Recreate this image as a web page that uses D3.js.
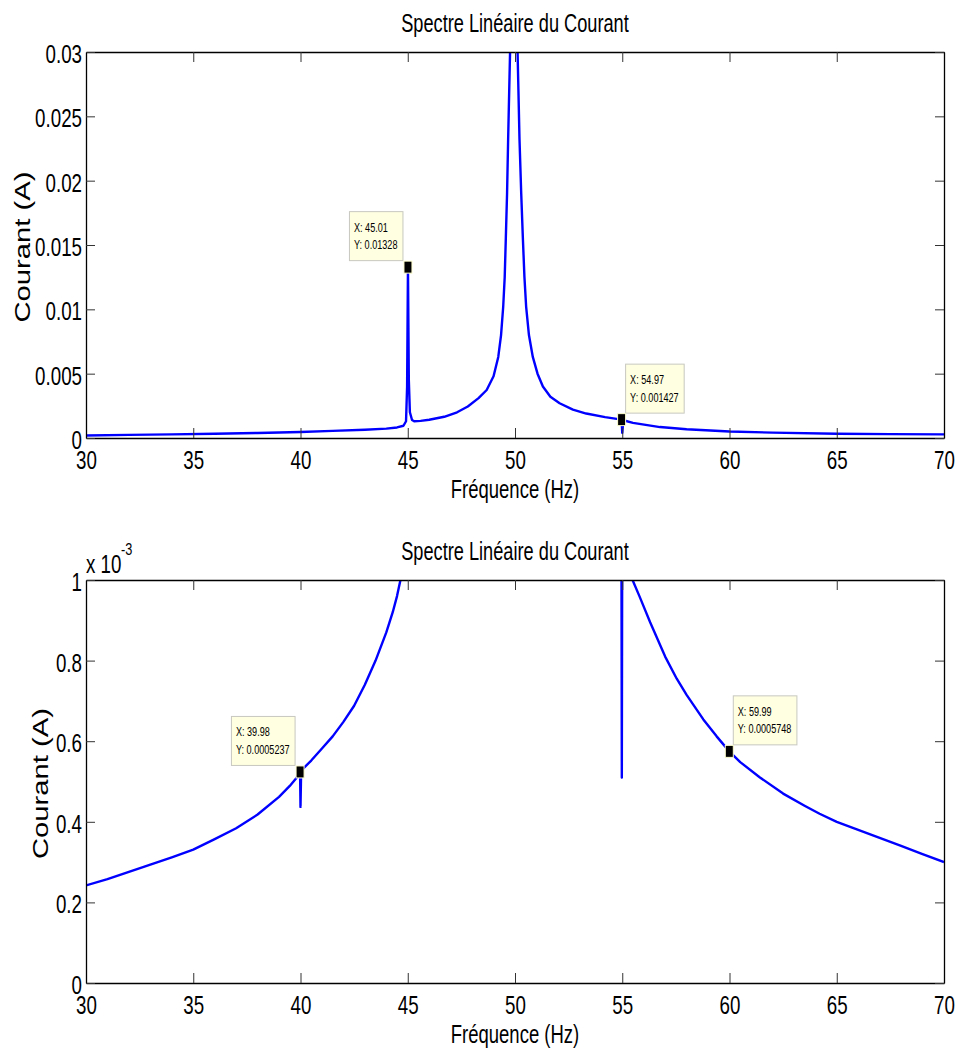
<!DOCTYPE html>
<html>
<head>
<meta charset="utf-8">
<script src="https://cdn.jsdelivr.net/npm/d3@7"></script>
<style>
  html, body { margin: 0; padding: 0; background: #fff; }
  svg { display: block; }
  text { font-family: "Liberation Sans", Arial, Helvetica, sans-serif; fill: #000; }
</style>
</head>
<body>
<svg id="chart" width="958" height="1051"></svg>
<script>
// ---------------- DATA ----------------
const chartTitle = "Spectre Linéaire du Courant";
const xLabel = "Fréquence (Hz)";
const yLabel = "Courant (A)";

const xTicks = [30, 35, 40, 45, 50, 55, 60, 65, 70];

// Top panel: current spectrum (A)
const freqTop = [30, 32, 34, 36, 38, 40, 41.5, 43, 44, 44.5, 44.8, 44.92, 44.97, 45.01, 45.05, 45.1, 45.2, 45.3,
  45.6, 46, 46.7, 47.3, 47.8, 48.3, 48.68, 49.0, 49.22, 49.35, 49.45, 49.52, 49.57, 49.63, 49.68, 49.73, 49.77, 49.85, 49.95,
  50.05, 50.12, 50.16, 50.21, 50.29, 50.37, 50.44, 50.52, 50.65, 50.83, 51.05, 51.3, 51.65, 52.08, 52.7, 53.32, 54.2,
  54.97, 55.0, 55.05, 55.5, 56.76, 58, 60, 62, 65, 67.5, 70];
const currentTop = [0.00020, 0.00024, 0.00028, 0.00033, 0.00039, 0.00047, 0.00055, 0.00064, 0.00073, 0.00082, 0.00095, 0.0013, 0.0040, 0.01328, 0.0045, 0.0020, 0.00140, 0.00130,
  0.00133, 0.00142, 0.00165, 0.00200, 0.00245, 0.0031, 0.00373, 0.0048, 0.0063, 0.0080, 0.0102, 0.0125, 0.0154, 0.0190, 0.0232, 0.0270, 0.0300, 0.040, 0.080,
  0.045, 0.0300, 0.0270, 0.0232, 0.0190, 0.0154, 0.0125, 0.0102, 0.0080, 0.0063, 0.0050, 0.0040, 0.0032, 0.0027, 0.0022, 0.0019, 0.00162,
  0.001427, 0.0004, 0.00138, 0.00118, 0.00085, 0.00068, 0.00050, 0.00042, 0.00033, 0.00030, 0.00028];
const yTicksTop = [0, 0.005, 0.01, 0.015, 0.02, 0.025, 0.03];
const yTickLabelsTop = ["0", "0.005", "0.01", "0.015", "0.02", "0.025", "0.03"];
const tipXTop = [45.01, 54.97];
const tipYTop = [0.01328, 0.001427];
const tipSideTop = ["left", "right"];

// Bottom panel: zoom on 0 .. 1e-3 A
const freqBottom = [30, 31, 32, 33, 34, 35, 36, 37, 38, 39, 39.5, 39.8, 39.98, 40.0, 40.03, 40.5, 41, 41.5, 42, 42.5, 43, 43.5, 44, 44.3, 44.5, 44.66, 44.8,
  46, 48, 50, 52, 54, 54.96, 54.98, 55.0, 55.2, 55.48, 55.8, 56.3, 57, 57.54, 58, 58.78, 59.4, 59.99, 60.5, 61.42, 62.5, 63.5, 64.2, 65, 66, 67, 68, 69, 70];
const currentBottom = [0.000242, 0.000258, 0.000276, 0.000294, 0.000312, 0.000331, 0.000357, 0.000384, 0.000418, 0.000462, 0.000489, 0.000508, 0.0005237, 0.000437, 0.000527, 0.000552, 0.000582, 0.000612, 0.000648, 0.000688, 0.000740, 0.000800, 0.000870, 0.000920, 0.000960, 0.0010, 0.00104,
  0.0013, 0.0026, 0.03, 0.0026, 0.0013, 0.00116, 0.00051, 0.00115, 0.00108, 0.0010, 0.00096, 0.000895, 0.00081, 0.000755, 0.000715, 0.000654, 0.000612, 0.0005748, 0.000548, 0.00051, 0.00047, 0.00044, 0.00042, 0.000400, 0.00038, 0.00036, 0.00034, 0.00032, 0.000300];
const yTicksBottom = [0, 0.0002, 0.0004, 0.0006, 0.0008, 0.001];
const yTickLabelsBottom = ["0", "0.2", "0.4", "0.6", "0.8", "1"];
const exponentBase = "x 10";
const exponentPower = "-3";
const tipXBottom = [39.98, 59.99];
const tipYBottom = [0.0005237, 0.0005748];
const tipSideBottom = ["left", "right"];

// ---------------- DRAW ----------------
const svg = d3.select("#chart");
const SX = 0.75; // horizontal compression of the (vertically stretched) original text

function addText(parent, x, y, str, size, anchor, sx, sy, rot) {
  return parent.append("text")
    .attr("x", 0).attr("y", 0)
    .attr("font-size", size)
    .attr("text-anchor", anchor || "start")
    .attr("transform", `translate(${x},${y}) rotate(${rot || 0}) scale(${sx},${sy})`)
    .text(str);
}

function panel(cfg) {
  const { left, right, top, bottom, freq, current, yTicks, yLabels, yMax, tipsX, tipsY, tipsSide, id } = cfg;
  const x = d3.scaleLinear().domain([30, 70]).range([left, right]);
  const y = d3.scaleLinear().domain([0, yMax]).range([bottom, top]);
  const g = svg.append("g");

  svg.append("clipPath").attr("id", "clip" + id)
    .append("rect").attr("x", left).attr("y", top).attr("width", right - left).attr("height", bottom - top);

  const line = d3.line().x((d, i) => x(freq[i])).y((d, i) => y(current[i]));
  g.append("path")
    .datum(current)
    .attr("clip-path", `url(#clip${id})`)
    .attr("d", line)
    .attr("fill", "none")
    .attr("stroke", "#0000ff")
    .attr("stroke-width", 2.4)
    .attr("stroke-linejoin", "round");

  const styleAxis = sel => {
    sel.select(".domain").attr("stroke", "#000").attr("stroke-width", 1.3);
    sel.selectAll(".tick line").attr("stroke", "#333").attr("stroke-width", 1);
  };

  const gb = g.append("g").attr("transform", `translate(0,${bottom})`)
    .call(d3.axisBottom(x).tickValues(xTicks).tickSizeInner(-10).tickSizeOuter(0).tickFormat(d => String(d)));
  styleAxis(gb);
  gb.selectAll(".tick text")
    .attr("y", 0).attr("dy", null)
    .attr("font-size", 25)
    .attr("font-family", '"Liberation Sans", Arial, sans-serif')
    .attr("fill", "#000")
    .attr("transform", `translate(0,31) scale(${SX},1)`);

  const gt = g.append("g").attr("transform", `translate(0,${top})`)
    .call(d3.axisTop(x).tickValues(xTicks).tickSizeInner(-10).tickSizeOuter(0).tickFormat(""));
  styleAxis(gt);

  const gl = g.append("g").attr("transform", `translate(${left},0)`)
    .call(d3.axisLeft(y).tickValues(yTicks).tickSizeInner(-9).tickSizeOuter(0).tickFormat((d, i) => yLabels[i]));
  styleAxis(gl);
  gl.selectAll(".tick text")
    .attr("x", 0).attr("dy", null).attr("y", 0)
    .attr("font-size", 25)
    .attr("font-family", '"Liberation Sans", Arial, sans-serif')
    .attr("fill", "#000")
    .attr("text-anchor", "end")
    .attr("transform", `translate(-4,10.5) scale(${SX},1)`);

  const gr = g.append("g").attr("transform", `translate(${right},0)`)
    .call(d3.axisRight(y).tickValues(yTicks).tickSizeInner(-9).tickSizeOuter(0).tickFormat(""));
  styleAxis(gr);

  const cx = (left + right) / 2;
  addText(g, cx, top - 20, chartTitle, 26, "middle", 0.7, 1, 0);
  addText(g, cx, bottom + 60, xLabel, 25, "middle", 0.74, 1, 0);
  addText(g, cfg.yLabelX, (top + bottom) / 2 + 2, yLabel, 21.5, "middle", 1.36, 1, -90);

  tipsX.forEach((tx, i) => {
    const mx = x(tx), my = y(tipsY[i]);
    const tg = g.append("g");
    const box = tg.append("rect");
    const l1 = addText(tg, 0, 0, "X: " + tx, 13, "start", 0.7, 1, 0).attr("fill", "#222");
    const l2 = addText(tg, 0, 0, "Y: " + tipsY[i], 13, "start", 0.7, 1, 0).attr("fill", "#222");
    const tw = Math.max(l1.node().getComputedTextLength(), l2.node().getComputedTextLength()) * 0.7;
    const bw = tw + 10, bh = 49;
    const bx = tipsSide[i] === "left" ? mx - 5 - bw : mx + 4;
    const by = my - 6.5 - bh;
    box.attr("x", bx).attr("y", by).attr("width", bw).attr("height", bh)
      .attr("fill", "#ffffe1").attr("stroke", "#c8c8c0").attr("stroke-width", 1);
    l1.attr("transform", `translate(${bx + 4.5},${by + 20}) scale(0.7,1)`);
    l2.attr("transform", `translate(${bx + 4.5},${by + 37.5}) scale(0.7,1)`);
    tg.append("rect")
      .attr("x", mx - 4).attr("y", my - 6).attr("width", 8).attr("height", 12)
      .attr("fill", "#000").attr("stroke", "#ffffd0").attr("stroke-width", 1);
  });
  return g;
}

panel({ id: "top", left: 86, right: 944, top: 52, bottom: 438, freq: freqTop, current: currentTop,
  yTicks: yTicksTop, yLabels: yTickLabelsTop, yMax: 0.03, tipsX: tipXTop, tipsY: tipYTop, tipsSide: tipSideTop, yLabelX: 30 });

const gB = panel({ id: "bot", left: 86, right: 944, top: 580, bottom: 983, freq: freqBottom, current: currentBottom,
  yTicks: yTicksBottom, yLabels: yTickLabelsBottom, yMax: 0.001, tipsX: tipXBottom, tipsY: tipYBottom, tipsSide: tipSideBottom, yLabelX: 48 });

addText(gB, 86, 573, exponentBase, 25, "start", SX, 1, 0);
addText(gB, 121, 555, exponentPower, 17, "start", SX, 1, 0);
</script>
</body>
</html>
